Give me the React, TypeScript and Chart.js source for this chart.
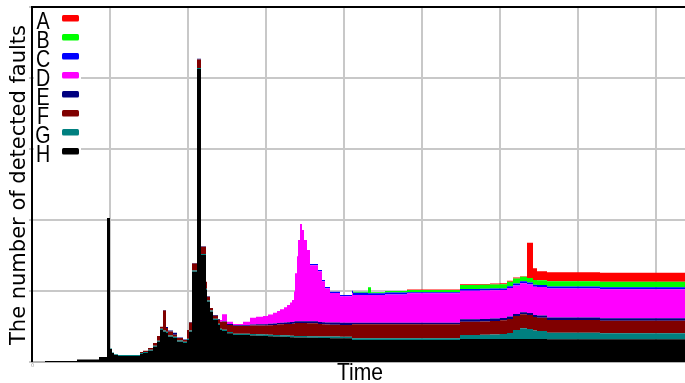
import { useEffect, useRef } from 'react';
import { Chart, registerables } from 'chart.js';

Chart.register(...registerables);

// time steps (shared by all series)
const times = [
  0, 13, 45, 67, 75, 78, 80, 82, 86, 108, 111, 116, 121, 125, 128, 131, 134, 136, 141, 145,
  151, 155, 157, 160, 165, 169, 174, 175, 178, 181, 186, 188, 190, 195, 201, 211, 218, 224, 231, 236,
  241, 245, 248, 252, 255, 258, 260, 262, 263, 265, 266, 268, 270, 272, 275, 278, 286, 290, 293, 298,
  308, 320, 321, 336, 339, 353, 375, 428, 448, 458, 468, 475, 481, 488, 495, 501, 505, 515, 568, 653,
];

// number of detected faults per fault type (stacked, bottom = H)
const faultsH = [
  0, 1, 2.5, 5, 144, 13, 9, 7, 6, 8, 9, 11.3, 15.3, 20.3, 32, 30.3, 29, 25.3, 24, 20.3,
  19, 22, 30.3, 90.3, 293, 107, 72, 60.3, 50.3, 42, 37, 32, 31, 28.7, 27, 27, 26.5, 26.3, 26, 25.8,
  25.5, 25.4, 25.3, 25.2, 25, 24.8, 24.7, 24.6, 24.5, 24.5, 24.5, 24.5, 24.4, 24.4, 24.3, 24.2, 24.1, 24, 23.9, 23.8,
  23.7, 22, 22, 22, 22, 22, 22, 23, 23, 23, 23, 23, 23, 23, 23, 23, 23, 22.7, 22.7, 22.7,
];
const faultsG = [
  0, 0, 0, 0, 0, 0.5, 0.5, 0.7, 1, 1, 1, 1, 1, 1, 1.3, 1.3, 1.3, 1.3, 1.3, 1.3,
  1.3, 1.3, 1.3, 1.3, 1, 1, 1.3, 1.3, 1.3, 1.3, 1.3, 1.3, 1.3, 1.3, 1.3, 1.3, 1.5, 1.5, 1.5, 1.5,
  1.5, 1.5, 1.5, 1.5, 1.5, 1.5, 1.5, 1.5, 1.5, 1.5, 1.5, 1.5, 1.5, 1.5, 1.5, 1.5, 1.5, 1.5, 1.5, 1.6,
  1.6, 1.7, 1.7, 1.7, 1.7, 1.7, 1.7, 4, 4.3, 4.6, 5, 6, 9, 10.7, 10, 8.5, 8, 6.5, 6, 6,
];
const faultsF = [
  0, 0, 0, 0, 0, 0, 0, 0, 0, 1, 1.3, 1.7, 2.7, 4.7, 2, 20, 3.7, 4, 2, 2.4,
  1.7, 8.7, 8, 7, 8.5, 7.3, 7, 3.7, 2.4, 3, 4, 7, 8, 7, 7.7, 7.7, 8.5, 8.7, 9, 9.5,
  10, 10.5, 11, 11.2, 11.5, 11.8, 12, 12.5, 13, 13, 13, 13, 13, 13, 13, 13, 12.5, 12.2, 12, 11.8,
  11.7, 14, 14, 14, 14, 14, 14, 13.3, 13.3, 13.4, 13.7, 14, 14, 14, 14, 13.5, 13.3, 12.8, 12.6, 12.6,
];
const faultsE = [
  0, 0, 0, 0, 0, 0, 0, 0, 0, 0, 0, 0, 0, 0, 0, 0.5, 1, 1, 2, 0.5,
  0.5, 0, 0.5, 0.5, 0.7, 0.5, 0, 0.5, 0, 0.7, 0.7, 0, 0.5, 1, 0.7, 0.8, 1, 1.2, 1.3, 1.4,
  1.5, 1.5, 1.5, 1.6, 1.7, 1.8, 1.8, 1.8, 1.8, 1.8, 1.8, 1.8, 1.8, 1.8, 1.9, 2, 2, 2.1, 2.2, 2.3,
  2.3, 1.6, 1.6, 1.6, 1.6, 1.6, 1.6, 2.4, 2.4, 2.4, 2.3, 2.5, 2, 2, 2, 2, 2.1, 2.4, 2.4, 2.4,
];
const faultsD = [
  0, 0, 0, 0, 0, 0, 0, 0, 0, 0, 0, 0, 0, 0, 0, 0, 0, 0, 0, 0,
  0, 0, 0, 0, 0, 0, 0, 0, 0, 0, 0, 1.7, 6.9, 2.3, 1.3, 3.5, 6.8, 7.5, 8.2, 9.3,
  10.8, 12, 13.4, 15.2, 17.3, 19.5, 22, 30, 47.9, 65, 81.2, 97.2, 91.3, 81.3, 71.3, 56, 50.6, 40.9, 34.1, 29.5,
  26.4, 29.4, 27.7, 27.7, 27.7, 28.2, 29.4, 28.6, 28.5, 28.4, 28, 28.5, 28.5, 29, 28.5, 28.3, 28.5, 29, 29, 29,
];
const faultsC = [
  0, 0, 0, 0, 0, 0, 0, 0, 0, 0, 0, 0, 0, 0, 0, 0, 0, 0, 0, 0,
  0, 0, 0, 0, 0, 0, 0, 0, 0, 0, 0, 0, 0, 0, 0, 0, 0, 0, 0, 0,
  0, 0, 0, 0, 0, 0, 0, 0, 0, 0, 0, 0, 0, 0, 0, 1.3, 1.3, 1.3, 1.3, 1.3,
  1.3, 2.6, 2.3, 1.7, 1.7, 2, 1, 1.7, 1.7, 1.6, 1.5, 1.7, 2, 2, 2, 2, 2, 2, 2, 2,
];
const faultsB = [
  0, 0, 0, 0, 0, 0, 0, 0, 0, 0, 0, 0, 0, 0, 0, 0, 0, 0, 0, 0,
  0, 0, 0, 0, 0, 0, 0, 0, 0, 0, 0, 0, 0, 0, 0, 0, 0, 0, 0, 0,
  0, 0, 0, 0, 0, 0, 0, 0, 0, 0, 0, 0, 0, 0, 0, 0, 0, 0, 0, 0,
  0, 0, 1, 6, 1, 1.5, 2.3, 4, 4, 4.2, 4.2, 4.5, 5, 4.6, 4.5, 4.7, 4.9, 5.3, 5.6, 5.6,
];
const faultsA = [
  0, 0, 0, 0, 0, 0, 0, 0, 0, 0, 0, 0, 0, 0, 0, 0, 0, 0, 0, 0,
  0, 0, 0, 0, 0, 0, 0, 0, 0, 0, 0, 0, 0, 0, 0, 0, 0, 0, 0, 0,
  0, 0, 0, 0, 0, 0, 0, 0, 0, 0, 0, 0, 0, 0, 0, 0, 0, 0, 0, 0,
  0, 0, 0, 0, 0, 0, 0.5, 0.7, 0.8, 0.9, 1, 1, 1, 0.5, 35.3, 11.7, 9, 9, 9, 9,
];

const legendLabels = ['A', 'B', 'C', 'D', 'E', 'F', 'G', 'H'];
const legendColors = ['#ff0000', '#00ff00', '#0000ff', '#ff00ff', '#000080', '#800000', '#008080', '#000000'];

const xTitle = 'Time';
const yTitle = 'The number of detected faults';

const decor = {
  id: 'decor',
  afterDraw(chart: any) {
    const ctx = chart.ctx as CanvasRenderingContext2D;
    const { left, top, right, bottom } = chart.chartArea;
    ctx.save();
    // frame lines
    ctx.fillStyle = '#000';
    ctx.fillRect(left - 1, top - 1, right - left + 1, 2);
    ctx.fillRect(left - 1, top - 1, 2, bottom - top + 1);

    // legend
    ctx.fillStyle = '#fff';
    ctx.fillRect(left + 2, top + 1, 47, 152);
    legendLabels.forEach((lab, i) => {
      ctx.save();
      ctx.translate(43, 28.5 + 19 * i);
      ctx.scale(0.82, 1);
      ctx.fillStyle = '#000';
      ctx.font = '24px "Liberation Sans", Arial, sans-serif';
      ctx.textAlign = 'center';
      ctx.textBaseline = 'alphabetic';
      ctx.fillText(lab, 0, 0);
      ctx.restore();
      ctx.fillStyle = legendColors[i];
      ctx.beginPath();
      (ctx as any).roundRect(62, 15 + 19 * i, 17, 6.5, 1.5);
      ctx.fill();
    });

    // y title
    ctx.save();
    ctx.translate(25, 185);
    ctx.rotate(-Math.PI / 2);
    ctx.fillStyle = '#000';
    ctx.font = '21px "DejaVu Sans", sans-serif';
    ctx.textAlign = 'center';
    ctx.textBaseline = 'alphabetic';
    ctx.fillText(yTitle, 0, 0);
    ctx.restore();

    // x title
    ctx.save();
    ctx.translate(360, 380);
    ctx.scale(0.88, 1);
    ctx.fillStyle = '#000';
    ctx.font = '24px "Liberation Sans", Arial, sans-serif';
    ctx.textAlign = 'center';
    ctx.textBaseline = 'alphabetic';
    ctx.fillText(xTitle, 0, 0);
    ctx.restore();

    // tiny origin label
    ctx.fillStyle = '#999';
    ctx.font = '5px "DejaVu Sans", sans-serif';
    ctx.textAlign = 'center';
    ctx.textBaseline = 'middle';
    ctx.fillText('0', left + 0.5, bottom + 4);
    ctx.restore();
  },
};

export default function App() {
  const ref = useRef<HTMLCanvasElement>(null);
  useEffect(() => {
    document.body.style.margin = '0';
    const canvas = ref.current!;
    const stack = [
      { name: 'H', values: faultsH, color: '#000000' },
      { name: 'G', values: faultsG, color: '#008080' },
      { name: 'F', values: faultsF, color: '#800000' },
      { name: 'E', values: faultsE, color: '#000080' },
      { name: 'D', values: faultsD, color: '#ff00ff' },
      { name: 'C', values: faultsC, color: '#0000ff' },
      { name: 'B', values: faultsB, color: '#00ff00' },
      { name: 'A', values: faultsA, color: '#ff0000' },
    ];
    const datasets = stack.map((s, i) => ({
      label: s.name,
      data: times.map((t, j) => ({ x: t, y: s.values[j] })),
      backgroundColor: s.color,
      borderColor: s.color,
      borderWidth: 0,
      pointRadius: 0,
      pointHoverRadius: 0,
      stepped: true,
      fill: i === 0 ? 'origin' : '-1',
    }));
    const chart = new Chart(canvas, {
      type: 'line',
      data: { datasets } as any,
      options: {
        animation: false,
        responsive: false,
        events: [],
        layout: { padding: { left: 29, top: 7, right: 0, bottom: 21 } },
        plugins: { legend: { display: false }, tooltip: { enabled: false } },
        scales: {
          x: {
            type: 'linear',
            min: 0,
            max: 653,
            ticks: { display: false, stepSize: 78, includeBounds: false },
            grid: { color: '#c8c8c8', lineWidth: 2, drawTicks: false },
            border: { display: true, color: '#b4b4b4', width: 2 },
          },
          y: {
            stacked: true,
            min: 0,
            max: 355,
            ticks: { display: false, stepSize: 71 },
            grid: { color: '#c8c8c8', lineWidth: 2, drawTicks: true, tickLength: 3 },
            border: { display: false },
          },
        },
      } as any,
      plugins: [decor],
    });
    return () => chart.destroy();
  }, []);
  return <canvas ref={ref} width={685} height={383} style={{ display: 'block' }} />;
}
